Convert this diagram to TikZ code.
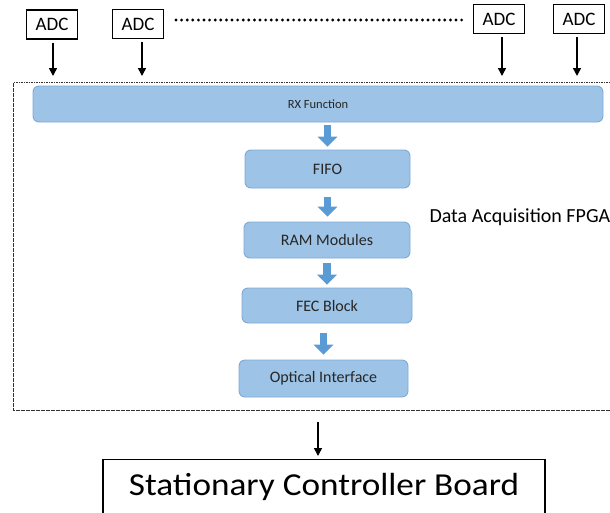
\documentclass[tikz,border=0pt]{standalone}
\usepackage{fontspec}
\setmainfont{Carlito}
\newfontfamily\boardfont[FakeStretch=1.1]{Carlito}
\usetikzlibrary{arrows.meta}
\definecolor{boxfill}{HTML}{9DC3E6}
\definecolor{boxline}{HTML}{7EA9D6}
\definecolor{flowblue}{HTML}{5B9BD5}
\begin{document}
\begin{tikzpicture}[x=1pt,y=-1pt,
	adc/.style={draw, line width=1.1pt, minimum width=51pt, minimum height=29pt, inner sep=0pt, font=\fontsize{19}{22}\selectfont},
	stage/.style={draw=boxline, fill=boxfill, line width=0.9pt, rounded corners=6pt, inner sep=0pt, text=black!85, font=\fontsize{16}{19}\selectfont},
	fpga/.style={draw=black!80, line width=0.9pt, dash pattern=on 1.6pt off 0.9pt, inner sep=0pt},
	sig/.style={-{Triangle[length=8pt,width=8pt]}, line width=1.5pt},
	flow/.style={flowblue, line width=7.5pt, -{Triangle[length=10pt,width=20pt,line width=0pt]}},
	dots/.style={line width=3.2pt, line cap=round, dash pattern=on 0pt off 5.6pt}]
	\useasboundingbox (0,0) rectangle (610,512);

	% ADC inputs
	\node[adc] (adc1) at (52,24.5) {ADC};
	\node[adc] (adc2) at (138,24) {ADC};
	\node[adc] (adc3) at (499,19) {ADC};
	\node[adc] (adc4) at (579,19) {ADC};
	\coordinate (d1) at (176,20);
	\coordinate (d2) at (462,20);
	\draw[dots] (d1) -- (d2);
	\coordinate (in1) at (53,76);
	\coordinate (in2) at (142,76);
	\coordinate (in3) at (502,76);
	\coordinate (in4) at (577,76);
	\foreach \i in {1,...,4}
		\draw[sig, shorten <=3pt] (adc\i.south -| in\i) -- (in\i);

	% FPGA
	\node[fpga, anchor=north west, minimum width=602pt, minimum height=328pt] (fpga) at (13,82) {};
	\node[stage, minimum width=570pt, minimum height=36pt, font=\fontsize{12.5}{14}\selectfont] (rx) at (318,104) {RX Function};
	\node[stage, minimum width=165pt, minimum height=38pt] (fifo) at (327.5,169) {FIFO};
	\node[stage, minimum width=166pt, minimum height=36pt] (ram) at (327,240) {RAM Modules};
	\node[stage, minimum width=170pt, minimum height=35pt] (fec) at (327,305.5) {FEC Block};
	\node[stage, minimum width=169pt, minimum height=37pt] (opt) at (323.5,378.5) {Optical Interface};
	\node[anchor=west, font=\fontsize{20}{24}\selectfont] (title) at (426,217) {Data Acquisition FPGA};

	\draw[flow, shorten <=3pt, shorten >=3pt] (fifo.north |- rx.south) -- (fifo.north);
	\draw[flow, shorten <=9pt, shorten >=5pt] (fifo.south) -- (ram.north -| fifo.south);
	\draw[flow, shorten <=5pt, shorten >=3pt] (ram.south) -- (fec.north -| ram.south);
	\draw[flow, shorten <=10pt, shorten >=5pt] (opt.north |- fec.south) -- (opt.north);

	% controller board
	\node[draw, line width=1.1pt, anchor=north, minimum width=442pt, text height=20pt, text depth=40pt, inner ysep=16pt, font=\boardfont\fontsize{32}{36}\selectfont] (scb) at (324,459) {Stationary Controller Board};
	\coordinate (out) at (318,422);
	\draw[sig, shorten >=3pt] (out) -- (out |- scb.north);
\end{tikzpicture}
\end{document}
